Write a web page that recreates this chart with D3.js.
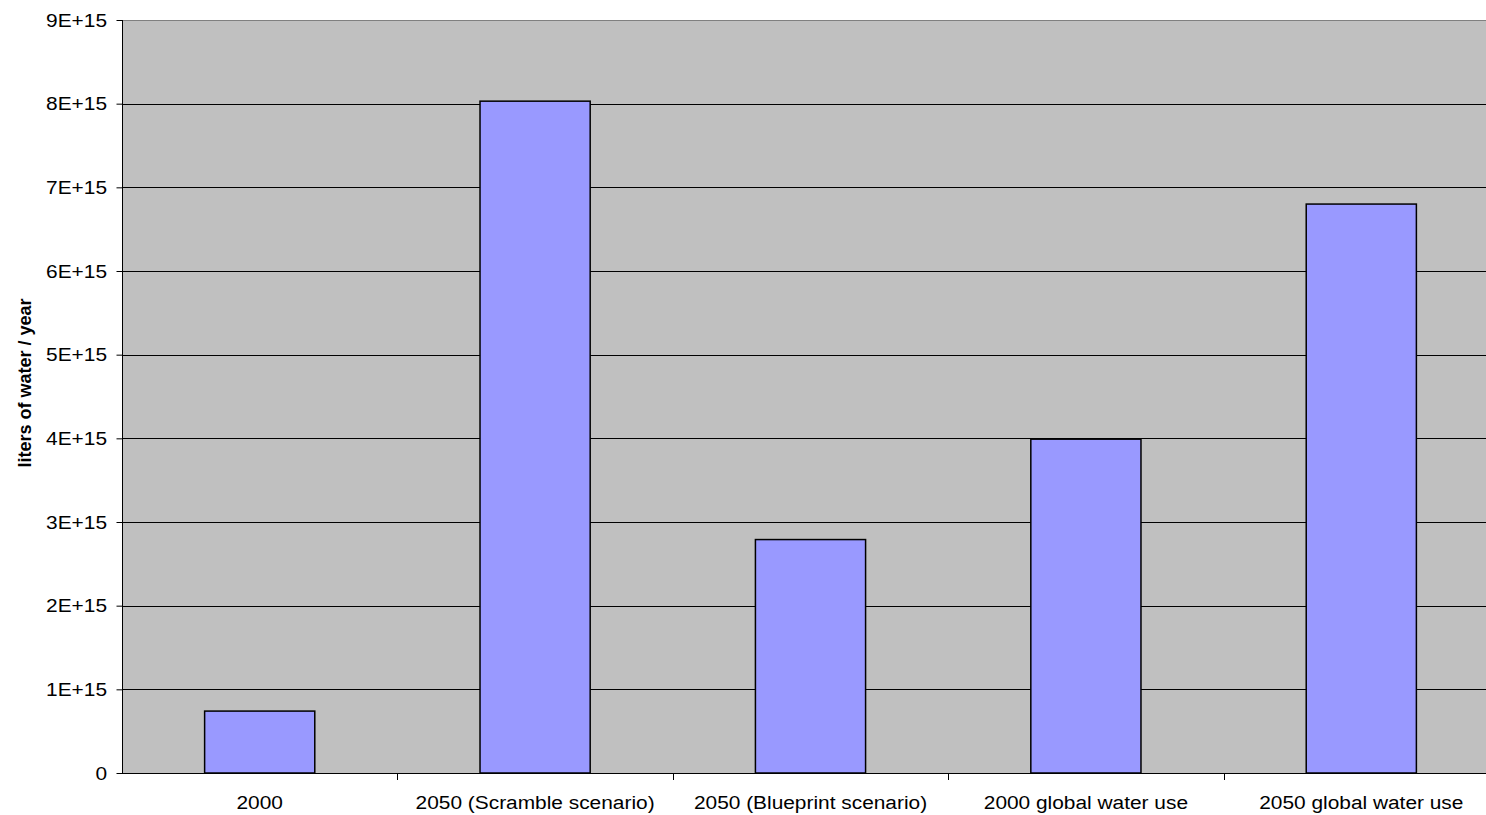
<!DOCTYPE html>
<html>
<head>
<meta charset="utf-8">
<script src="https://cdn.jsdelivr.net/npm/d3@7"></script>
<style>
  body { margin: 0; background: #fff; }
  svg { display: block; }
  text { font-family: "Liberation Sans", Arial, sans-serif; fill: #000; }
</style>
</head>
<body>
<svg id="chart" width="1486" height="815"></svg>
<script>
const categories = ["2000", "2050 (Scramble scenario)", "2050 (Blueprint scenario)", "2000 global water use", "2050 global water use"];
const values = [0.74e15, 8.03e15, 2.79e15, 3.99e15, 6.8e15];
const yTicks = [0, 1e15, 2e15, 3e15, 4e15, 5e15, 6e15, 7e15, 8e15, 9e15];
const yTickLabels = ["0", "1E+15", "2E+15", "3E+15", "4E+15", "5E+15", "6E+15", "7E+15", "8E+15", "9E+15"];
const yTitle = "liters of water / year";

(function () {
const svg = d3.select("#chart");
const pLeft = 122, pRight = 1499, pTop = 20, pBottom = 773;
const sx = 1.16; // horizontal text stretch

const x = d3.scaleBand().domain(categories).range([pLeft, pRight]).paddingInner(0.6).paddingOuter(0.3);
const y = d3.scaleLinear().domain([0, 9e15]).range([pBottom, pTop]);

// plot area
svg.append("rect")
  .attr("x", pLeft + 0.5).attr("y", pTop + 0.5)
  .attr("width", pRight - pLeft).attr("height", pBottom - pTop)
  .attr("fill", "#c0c0c0").attr("stroke", "#808080").attr("stroke-width", 1);

// gridlines
svg.append("g").selectAll("line")
  .data(yTicks.filter(t => t > 0 && t < 9e15))
  .join("line")
  .attr("x1", pLeft).attr("x2", pRight)
  .attr("y1", d => Math.round(y(d)) + 0.5).attr("y2", d => Math.round(y(d)) + 0.5)
  .attr("stroke", "#000").attr("stroke-width", 1);

// bars
svg.append("g").selectAll("rect")
  .data(values)
  .join("rect")
  .attr("x", (d, i) => x(categories[i]))
  .attr("y", d => y(d))
  .attr("width", x.bandwidth())
  .attr("height", d => pBottom - y(d))
  .attr("fill", "#9999ff").attr("stroke", "#000").attr("stroke-width", 1.5);

// y axis
const yAxis = d3.axisLeft(y).tickValues(yTicks).tickSize(6).tickFormat("");
const gy = svg.append("g").attr("transform", `translate(${pLeft + 0.5},0)`).call(yAxis);
gy.selectAll("path").attr("stroke", "#000").attr("d", `M0,${pTop}V${pBottom}`);
gy.selectAll("line").attr("stroke", "#000");

svg.append("g").selectAll("text")
  .data(yTicks)
  .join("text")
  .attr("transform", (d) => `translate(107,${y(d) + 6.5}) scale(${sx},1)`)
  .attr("text-anchor", "end")
  .attr("font-size", 18)
  .text((d, i) => yTickLabels[i]);

// x axis
const boundaries = categories.slice(1).map(c => x(c) - x.step() * x.paddingInner() / 2);
svg.append("line")
  .attr("x1", pLeft).attr("x2", pRight)
  .attr("y1", pBottom + 0.5).attr("y2", pBottom + 0.5)
  .attr("stroke", "#000");
svg.append("g").selectAll("line")
  .data(boundaries)
  .join("line")
  .attr("x1", d => Math.round(d) + 0.5).attr("x2", d => Math.round(d) + 0.5)
  .attr("y1", pBottom).attr("y2", pBottom + 7)
  .attr("stroke", "#000");

svg.append("g").selectAll("text")
  .data(categories)
  .join("text")
  .attr("transform", d => `translate(${x(d) + x.bandwidth() / 2},809) scale(${sx},1)`)
  .attr("text-anchor", "middle")
  .attr("font-size", 18)
  .text(d => d);

// y title
svg.append("text")
  .attr("transform", `translate(31,383) rotate(-90)`)
  .attr("text-anchor", "middle")
  .attr("font-size", 18)
  .attr("font-weight", "bold")
  .text(yTitle);
})();
</script>
</body>
</html>
